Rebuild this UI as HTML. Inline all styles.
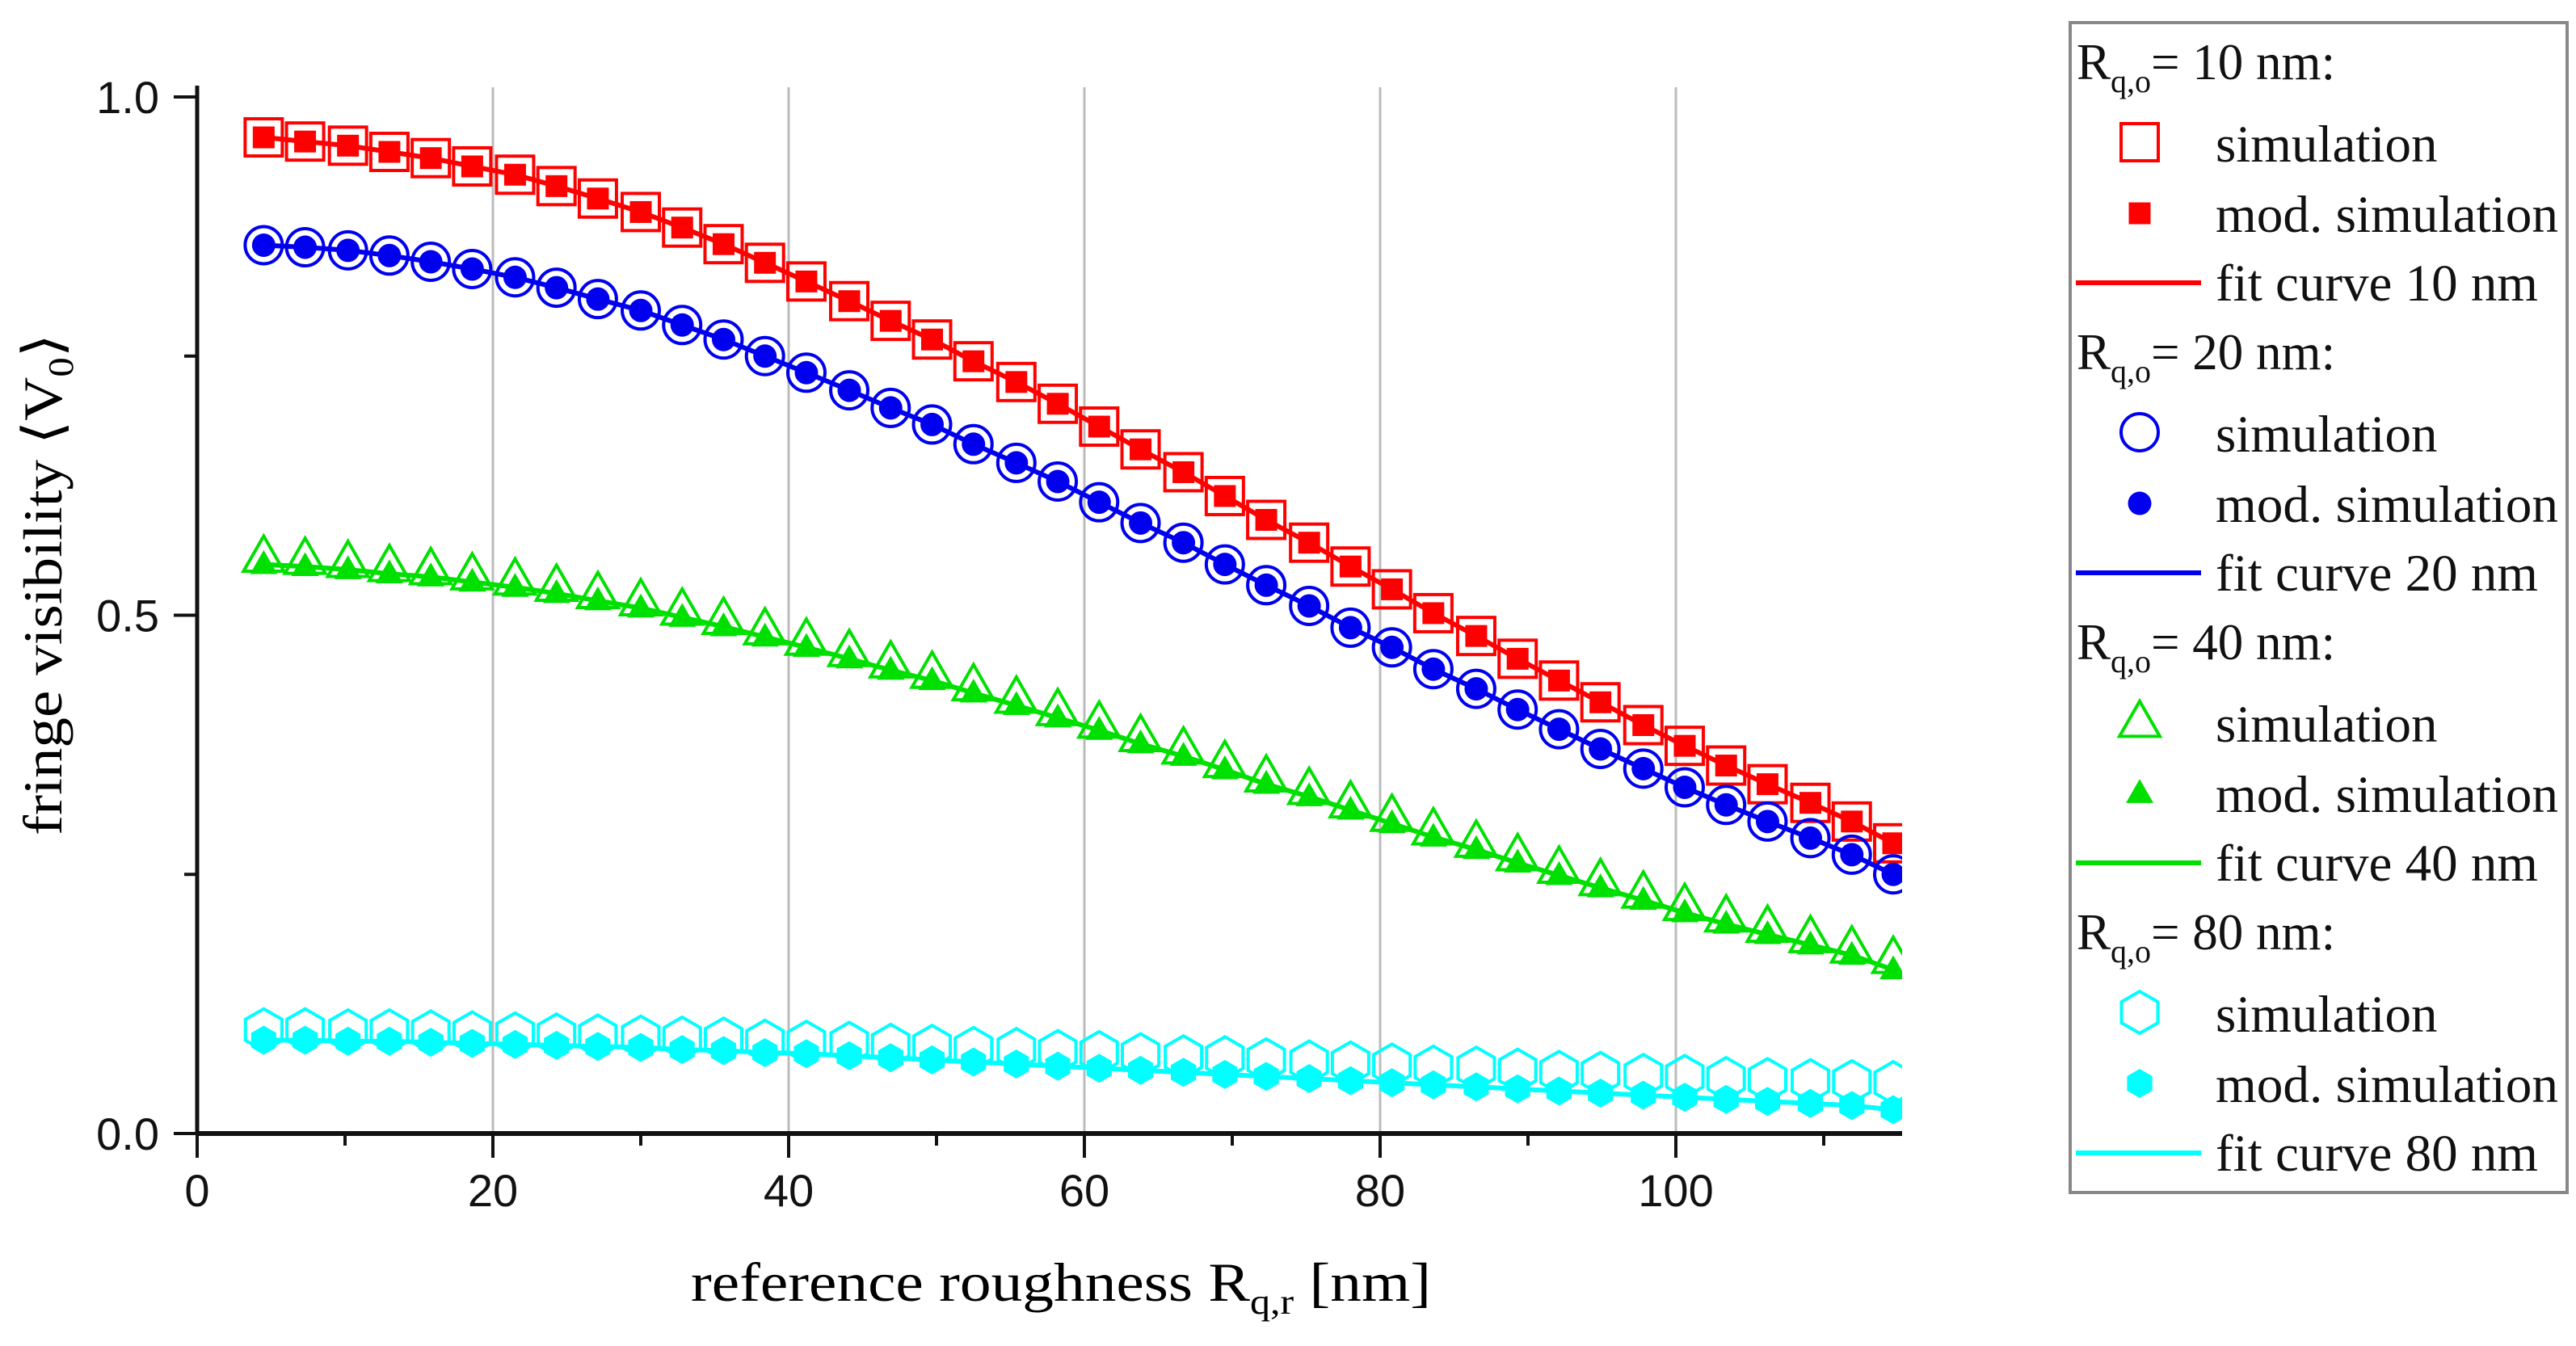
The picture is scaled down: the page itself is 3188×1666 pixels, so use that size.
<!DOCTYPE html>
<html><head><meta charset="utf-8"><title>fringe visibility chart</title>
<style>html,body{margin:0;padding:0;background:#fff;}svg{display:block;}</style></head>
<body>
<svg id="chart" xmlns="http://www.w3.org/2000/svg" width="3188" height="1666" viewBox="0 0 3188 1666">
<defs><clipPath id="plotclip"><rect x="244" y="60" width="2110" height="1400"/></clipPath></defs>
<g id="grid"></g>
<g id="series" clip-path="url(#plotclip)"></g>
<g id="axes"></g>
<text transform="translate(76,1034) rotate(-90)" font-family="Liberation Serif, serif" font-size="68" textLength="621" lengthAdjust="spacingAndGlyphs">fringe visibility ⟨V<tspan font-size="44" dy="14">0</tspan><tspan dy="-14">⟩</tspan></text>
<text x="855" y="1610" font-family="Liberation Serif, serif" font-size="68" textLength="916" lengthAdjust="spacingAndGlyphs">reference roughness R<tspan font-size="44" dy="16">q,r</tspan><tspan dy="-16"> [nm]</tspan></text>
<g id="legend">
<rect x="2562" y="28" width="615" height="1448" fill="#fff" stroke="#888" stroke-width="4"/>
</g>
</svg>
<script>
const xValues = [4.5,7.3,10.2,13.0,15.8,18.6,21.5,24.3,27.1,30.0,32.8,35.6,38.4,41.2,44.1,46.9,49.7,52.5,55.4,58.2,61.0,63.8,66.7,69.5,72.3,75.2,78.0,80.8,83.6,86.5,89.3,92.1,94.9,97.8,100.6,103.4,106.2,109.1,111.9,114.7];
const red = [.961,.957,.953,.947,.941,.933,.925,.914,.902,.889,.874,.858,.840,.822,.803,.784,.766,.745,.725,.704,.682,.660,.638,.615,.592,.570,.547,.525,.502,.480,.458,.437,.416,.394,.374,.355,.337,.319,.301,.280];
const blue = [.857,.855,.852,.847,.841,.834,.826,.816,.805,.794,.780,.766,.750,.734,.717,.700,.684,.665,.647,.629,.609,.589,.570,.549,.529,.509,.488,.469,.448,.429,.409,.390,.371,.352,.334,.317,.301,.285,.269,.250];
const greenOpen = [.556,.554,.551,.547,.544,.539,.534,.528,.521,.514,.505,.496,.486,.476,.465,.454,.444,.432,.420,.408,.396,.383,.371,.358,.344,.332,.319,.306,.293,.281,.268,.256,.244,.232,.220,.209,.199,.189,.179,.169];
const green = [.549,.547,.544,.540,.537,.532,.527,.521,.514,.507,.498,.489,.479,.469,.458,.447,.437,.425,.413,.401,.389,.376,.364,.351,.337,.325,.312,.299,.286,.274,.261,.249,.237,.225,.213,.202,.192,.182,.172,.158];
const cyanOpen = [.100,.100,.099,.099,.098,.097,.096,.095,.094,.093,.092,.091,.089,.088,.087,.085,.084,.082,.081,.079,.078,.076,.074,.073,.071,.069,.068,.066,.064,.063,.061,.059,.058,.056,.055,.053,.052,.051,.050,.049];
const cyan = [.090,.090,.089,.089,.088,.087,.086,.085,.084,.083,.081,.080,.078,.077,.075,.073,.071,.069,.067,.065,.063,.061,.059,.057,.055,.053,.051,.049,.047,.045,.043,.041,.039,.037,.035,.033,.031,.029,.027,.023];
const xTicks = [0,20,40,60,80,100];
const xMinor = [10,30,50,70,90,110];
const yTicks = [0,0.5,1.0];
const yTickLabels = ["0.0","0.5","1.0"];
const yMinor = [0.25,0.75];
const legendGroups = ["10","20","40","80"];

const NS = "http://www.w3.org/2000/svg";
const X = v => 244 + v * 18.3;
const Y = v => 1403 - v * 1283;
function mk(tag, attrs, parent){const e=document.createElementNS(NS,tag);for(const k in attrs)e.setAttribute(k,attrs[k]);parent.appendChild(e);return e;}
const grid=document.getElementById('grid'), axes=document.getElementById('axes'), ser=document.getElementById('series'), leg=document.getElementById('legend');

xTicks.slice(1).forEach(t=>{const l=mk('line',{x1:X(t),x2:X(t),y1:108,y2:1403,stroke:'#bbb','stroke-width':3},grid);

});

let a=mk('line',{x1:244,x2:244,y1:106,y2:1405,stroke:'#111','stroke-width':5},axes);


a=mk('line',{x1:242,x2:2354,y1:1403,y2:1403,stroke:'#111','stroke-width':6},axes);


xTicks.forEach(t=>{const l=mk('line',{x1:X(t),x2:X(t),y1:1403,y2:1433,stroke:'#111','stroke-width':4},axes);


const tx=mk('text',{x:X(t),y:1493,'text-anchor':'middle','font-family':'Liberation Sans, sans-serif','font-size':56,fill:'#111'},axes);tx.textContent=t;

});
xMinor.forEach(t=>{const l=mk('line',{x1:X(t),x2:X(t),y1:1403,y2:1418,stroke:'#111','stroke-width':4},axes);

});
yTicks.forEach((t,i)=>{const l=mk('line',{x1:215,x2:244,y1:Y(t),y2:Y(t),stroke:'#111','stroke-width':4},axes);


const tx=mk('text',{x:197,y:Y(t)+20,'text-anchor':'end','font-family':'Liberation Sans, sans-serif','font-size':56,fill:'#111'},axes);tx.textContent=yTickLabels[i];

});
yMinor.forEach(t=>{const l=mk('line',{x1:228,x2:244,y1:Y(t),y2:Y(t),stroke:'#111','stroke-width':4},axes);

});

function marker(type, cx, cy, color, filled, parent){
  let e;
  const fill = filled?color:'none', sw = filled?0:4;
  if(type==='square'){const s=filled?27:46;e=mk('rect',{x:cx-s/2,y:cy-s/2,width:s,height:s,fill:fill,stroke:color,'stroke-width':sw},parent);}
  else if(type==='circle'){e=mk('circle',{cx:cx,cy:cy,r:filled?14.5:23,fill:fill,stroke:color,'stroke-width':sw},parent);}
  else if(type==='triangle'){const w=filled?34:50,h=w*0.87;e=mk('polygon',{points:`${cx},${cy-h*0.6} ${cx+w/2},${cy+h*0.4} ${cx-w/2},${cy+h*0.4}`,fill:fill,stroke:color,'stroke-width':sw},parent);}
  else {const r=filled?18:26;let p=[];for(let k=0;k<6;k++){const ang=Math.PI/180*(90+60*k);p.push((cx+r*Math.cos(ang)).toFixed(1)+','+(cy-r*Math.sin(ang)).toFixed(1));}e=mk('polygon',{points:p.join(' '),fill:fill,stroke:color,'stroke-width':sw},parent);}
  return e;
}
const seriesDefs=[
 {name:'10nm',color:'#ff0000',type:'square',open:red,mod:red},
 {name:'20nm',color:'#0000ee',type:'circle',open:blue,mod:blue},
 {name:'40nm',color:'#00e000',type:'triangle',open:greenOpen,mod:green},
 {name:'80nm',color:'#00ffff',type:'hexagon',open:cyanOpen,mod:cyan}];
seriesDefs.forEach(s=>{
  const g=mk('g',{},ser);
  
  
  xValues.forEach((x,i)=>{const m=marker(s.type,X(x),Y(s.open[i]),s.color,false,g);
    
    });
  const pl=mk('polyline',{points:xValues.map((x,i)=>X(x)+','+Y(s.mod[i])).join(' '),fill:'none',stroke:s.color,'stroke-width':6},g);
  
  
  xValues.forEach((x,i)=>{const m=marker(s.type,X(x),Y(s.mod[i]),s.color,true,g);
    
    });
});

const lf='Liberation Serif, serif';
seriesDefs.forEach((s,k)=>{
  const b=98+359*k;
  const h=mk('text',{x:2570,y:b,'font-family':lf,'font-size':63,fill:'#111'},leg);
  
  
  h.innerHTML='R<tspan font-size="40" dy="16">q,o</tspan><tspan dy="-16">= '+legendGroups[k]+' nm:</tspan>';
  let m=marker(s.type,2648,b+78,s.color,false,leg);
  
  
  let t=mk('text',{x:2742,y:b+102,'font-family':lf,'font-size':65,fill:'#111'},leg);t.textContent='simulation';
  
  
  m=marker(s.type,2648,b+166,s.color,true,leg);
  
  
  t=mk('text',{x:2742,y:b+189,'font-family':lf,'font-size':65,fill:'#111',textLength:424,lengthAdjust:'spacingAndGlyphs'},leg);t.textContent='mod. simulation';
  
  
  const l=mk('line',{x1:2569,x2:2724,y1:b+252,y2:b+252,stroke:s.color,'stroke-width':6},leg);
  
  
  t=mk('text',{x:2742,y:b+274,'font-family':lf,'font-size':65,fill:'#111'},leg);t.textContent='fit curve '+legendGroups[k]+' nm';
  
  
});
</script>
</body></html>
